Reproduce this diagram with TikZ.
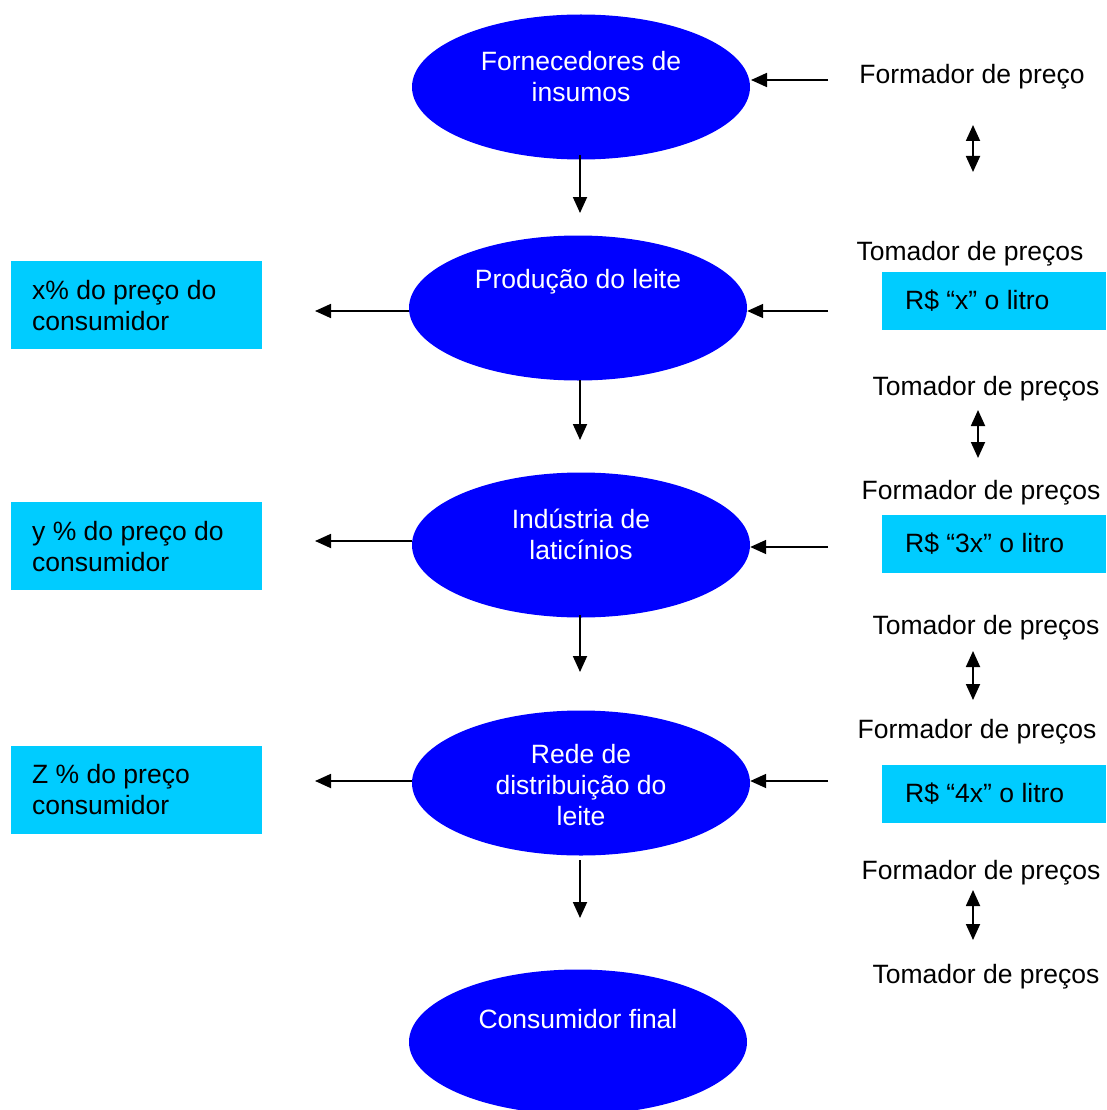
\documentclass[tikz,border=0pt]{standalone}
\usepackage{fontspec}
\setmainfont{Liberation Sans}
\usetikzlibrary{shapes.geometric,arrows.meta}
\definecolor{ellblue}{RGB}{0,0,255}
\definecolor{boxcyan}{RGB}{0,204,255}
\begin{document}
\begin{tikzpicture}[x=1pt,y=-1pt,
  ell/.style={ellipse, fill=ellblue, draw=none, minimum width=338pt, minimum height=145pt, inner sep=0pt},
  etext/.style={text=white, font=\fontsize{26.5}{31}\selectfont, align=center, inner sep=0pt},
  lbl/.style={font=\fontsize{26.5}{31}\selectfont, inner sep=0pt},
  cbox/.style={fill=boxcyan, draw=none, inner sep=0pt, anchor=north west},
  btext/.style={font=\fontsize{26.5}{31}\selectfont, align=left, inner sep=0pt, anchor=west},
  arr/.style={line width=1.8pt, -{Triangle[length=16pt,width=14pt]}},
  darr/.style={line width=1.8pt, {Triangle[length=16pt,width=14pt]}-{Triangle[length=16pt,width=14pt]}}
]
\useasboundingbox (0,0) rectangle (1106,1110);

% ellipses
\node[ell] (e1) at (581,87) {};
\node[ell] (e2) at (578,308) {};
\node[ell] (e3) at (581,545) {};
\node[ell] (e4) at (581,783) {};
\node[ell] (e5) at (578,1042) {};

\node[etext] (t1) at (581,77) {Fornecedores de\\insumos};
\node[etext] (t2) at (578,282) {Produção do leite};
\node[etext] (t3) at (581,534) {Indústria de\\laticínios};
\node[etext] (t4) at (581,785) {Rede de\\distribuição do\\leite};
\node[etext] (t5) at (578,1019) {Consumidor final};

% vertical arrows
\coordinate (d1) at (580,213);
\coordinate (d2) at (580,440);
\coordinate (d3) at (580,672);
\coordinate (d4) at (580,918);
\draw[arr] (580,155) -- (d1);
\draw[arr] (580,380) -- (d2);
\draw[arr] (580,615) -- (d3);
\draw[arr] (580,860) -- (d4);

% right incoming arrows
\coordinate (r1) at (828,80);
\coordinate (r2) at (828,311);
\coordinate (r3) at (828,547);
\coordinate (r4) at (828,781);
\draw[arr] (r1) -- (751,80);
\draw[arr] (r2) -- (e2.east |- r2);
\draw[arr] (r3) -- (e3.east |- r3);
\draw[arr] (r4) -- (e4.east |- r4);

% left outgoing arrows
\coordinate (l2) at (315,311);
\coordinate (l3) at (315,541);
\coordinate (l4) at (315,781);
\draw[arr] (e2.west |- l2) -- (l2);
\draw[arr] (e3.west |- l3) -- (l3);
\draw[arr] (e4.west |- l4) -- (l4);

% left boxes
\node[cbox, minimum width=251pt, minimum height=88pt] (b1) at (11,261) {};
\node[cbox, minimum width=251pt, minimum height=88pt] (b2) at (11,502) {};
\node[cbox, minimum width=251pt, minimum height=88pt] (b3) at (11,746) {};
\node[btext] at (32,306) {x\% do preço do\\consumidor};
\node[btext] at (32,547) {y \% do preço do\\consumidor};
\node[btext] at (32,790) {Z \% do preço\\consumidor};

% right boxes
\node[cbox, minimum width=224pt, minimum height=58pt] (p1) at (882,272) {};
\node[cbox, minimum width=224pt, minimum height=58pt] (p2) at (882,515) {};
\node[cbox, minimum width=224pt, minimum height=58pt] (p3) at (882,765) {};
\node[btext] at (905,301) {R\$ “x” o litro};
\node[btext] at (905,544) {R\$ “3x” o litro};
\node[btext] at (905,794) {R\$ “4x” o litro};

% right labels
\node[lbl] (f1) at (972,77) {Formador de preço};
\node[lbl] (tm1) at (970,254) {Tomador de preços};
\node[lbl] (tm2) at (986,389) {Tomador de preços};
\node[lbl] (f2) at (981,493) {Formador de preços};
\node[lbl] (tm3) at (986,628) {Tomador de preços};
\node[lbl] (f3) at (977,732) {Formador de preços};
\node[lbl] (f4) at (981,873) {Formador de preços};
\node[lbl] (tm4) at (986,977) {Tomador de preços};

% double arrows
\draw[darr] (973,125) -- (973,172);
\draw[darr] (978,410) -- (978,458);
\draw[darr] (973,651) -- (973,700);
\draw[darr] (973,890) -- (973,940);
\end{tikzpicture}
\end{document}
